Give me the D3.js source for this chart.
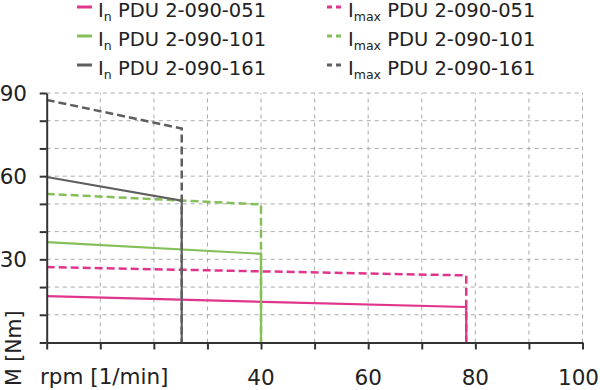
<!DOCTYPE html>
<html><head><meta charset="utf-8">
<script src="https://cdn.jsdelivr.net/npm/d3@7"></script>
<style>body{margin:0;background:#fff}</style>
</head><body>
<svg id="c" width="600" height="390"></svg>
<script>
const models = ["PDU 2-090-051","PDU 2-090-101","PDU 2-090-161"];
const colors = ["#e0358b","#84bf5a","#5f5f5f"];
const rpmEnd = [78.3, 40, 25.2];
const nStart = [16.7, 36.2, 59.7];
const nEnd = [12.8, 32.0, 51.2];
const maxStart = [27.2, 53.6, 87.5];
const maxEnd = [24.2, 49.8, 77.2];
const xTickLabels = [40, 60, 80, 100];
const yTickLabels = [30, 60, 90];

const svg = d3.select("#c");
const font = "'DejaVu Sans',sans-serif";
const x = d3.scaleLinear().domain([0,100]).range([46.7,582.5]);
const y = d3.scaleLinear().domain([0,90]).range([342.5,93]);

// grid
const g = svg.append("g");
d3.range(10,101,10).forEach(v=>{
  g.append("line").attr("x1",x(v)).attr("x2",x(v)).attr("y1",y(0)).attr("y2",y(90))
   .attr("stroke","#aaa").attr("stroke-width",1).attr("stroke-dasharray","4,4");
});
d3.range(10,91,10).forEach(v=>{
  g.append("line").attr("x1",x(0)).attr("x2",x(100)).attr("y1",y(v)).attr("y2",y(v))
   .attr("stroke","#aaa").attr("stroke-width",1).attr("stroke-dasharray","4,4");
});

// series
const line = d3.line().x(d=>x(d[0])).y(d=>y(d[1]));
for (let i=0;i<3;i++){
  svg.append("path").datum([[0,maxStart[i]],[rpmEnd[i],maxEnd[i]],[rpmEnd[i],0]])
    .attr("d",line).attr("fill","none").attr("stroke",colors[i]).attr("stroke-width",2.5)
    .attr("stroke-dasharray","8,4");
}
for (let i=0;i<3;i++){
  svg.append("path").datum([[0,nStart[i]],[rpmEnd[i],nEnd[i]],[rpmEnd[i],0]])
    .attr("d",line).attr("fill","none").attr("stroke",colors[i]).attr("stroke-width",2.2);
}

// axes
const xa = svg.append("g").attr("transform",`translate(0,${y(0)})`)
  .call(d3.axisBottom(x).tickValues(d3.range(0,101,10)).tickSize(7).tickSizeOuter(0).tickFormat(""));
xa.select(".domain").attr("stroke","#333").attr("stroke-width",2);
xa.selectAll(".tick line").attr("stroke","#333").attr("stroke-width",2);
const ya = svg.append("g").attr("transform",`translate(${x(0)},0)`)
  .call(d3.axisLeft(y).tickValues(d3.range(0,91,10)).tickSize(7).tickSizeOuter(0).tickFormat(""));
ya.select(".domain").attr("stroke","#333").attr("stroke-width",2);
ya.selectAll(".tick line").attr("stroke","#333").attr("stroke-width",2);

svg.selectAll(".xl").data(xTickLabels).enter().append("text")
  .attr("x",d=>d===100 ? 599 : x(d)).attr("y",385)
  .attr("text-anchor",d=>d===100 ? "end" : "middle")
  .attr("font-family",font).attr("font-size",21.5).attr("fill","#222").text(d=>d);
svg.selectAll(".yl").data(yTickLabels).enter().append("text")
  .attr("x",27).attr("y",d=>y(d)+7.5).attr("text-anchor","end")
  .attr("font-family",font).attr("font-size",21.5).attr("fill","#222").text(d=>d);
svg.append("text").attr("x",40).attr("y",384).attr("font-family",font).attr("font-size",21.5)
  .attr("fill","#222").text("rpm [1/min]");
svg.append("text").attr("transform","translate(21,386) rotate(-90)").attr("font-family",font)
  .attr("font-size",20.5).attr("fill","#222").text("M [Nm]");

// legend
const rows = [17, 46, 75];
for (let i=0;i<3;i++){
  svg.append("line").attr("x1",77).attr("x2",92).attr("y1",rows[i]-10).attr("y2",rows[i]-10)
    .attr("stroke",colors[i]).attr("stroke-width",3);
  const t1 = svg.append("text").attr("x",98).attr("y",rows[i]).attr("font-family",font)
    .attr("font-size",19.5).attr("fill","#222");
  t1.append("tspan").text("I");
  t1.append("tspan").attr("font-size",12.5).attr("dy",4).text("n");
  t1.append("tspan").attr("dy",-4).text(" "+models[i]);

  svg.append("line").attr("x1",327).attr("x2",343).attr("y1",rows[i]-10).attr("y2",rows[i]-10)
    .attr("stroke",colors[i]).attr("stroke-width",3).attr("stroke-dasharray","5,4");
  const t2 = svg.append("text").attr("x",348).attr("y",rows[i]).attr("font-family",font)
    .attr("font-size",19.5).attr("fill","#222");
  t2.append("tspan").text("I");
  t2.append("tspan").attr("font-size",12.5).attr("dy",4).text("max");
  t2.append("tspan").attr("dy",-4).text(" "+models[i]);
}
</script>
</body></html>
